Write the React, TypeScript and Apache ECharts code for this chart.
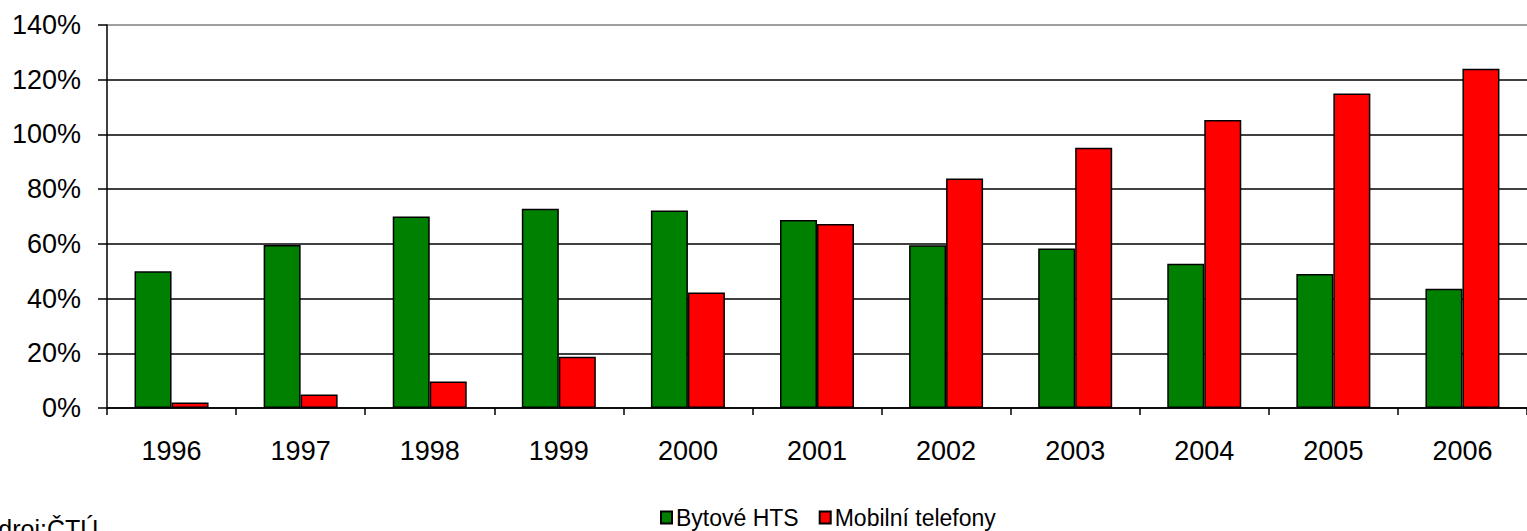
import React, { useEffect, useRef } from "react";
import * as echarts from "echarts";

const years = ["1996", "1997", "1998", "1999", "2000", "2001", "2002", "2003", "2004", "2005", "2006"];
const bytoveHTS = [50, 59.6, 70, 72.8, 72.2, 68.7, 59.5, 58.3, 52.7, 49.0, 43.6];
const mobilniTelefony = [2.0, 4.9, 9.7, 18.7, 42.2, 67.3, 83.9, 95.1, 105.3, 115, 124];
const seriesNames = ["Bytové HTS", "Mobilní telefony"];
const sourceText = "Zdroj:ČTÚ";

const FONT = "'Liberation Sans', Arial, sans-serif";

export default function App() {
  const ref = useRef<HTMLDivElement>(null);
  useEffect(() => {
    if (!ref.current) return;
    const chart = echarts.init(ref.current, null, { renderer: "svg" });
    chart.setOption({
      animation: false,
      backgroundColor: "#ffffff",
      textStyle: { fontFamily: FONT, color: "#000" },
      grid: { left: 107, top: 25, width: 1430, height: 383, containLabel: false },
      legend: {
        left: 655,
        top: 501,
        icon: "rect",
        itemWidth: 11,
        itemHeight: 12,
        itemGap: 20,
        textStyle: { fontFamily: FONT, fontSize: 23, color: "#000", padding: [0, 0, 0, -1] },
        data: seriesNames,
      },
      graphic: [
        {
          type: "text",
          left: -17,
          top: 516,
          style: { text: sourceText, font: `25px ${FONT}`, fill: "#000" },
        },
      ],
      xAxis: {
        type: "category",
        data: years,
        axisLine: { show: true, lineStyle: { color: "#000", width: 1.5 } },
        axisTick: { show: true, length: 7, lineStyle: { color: "#000", width: 1.5 } },
        axisLabel: { fontFamily: FONT, fontSize: 27, color: "#000", margin: 29 },
      },
      yAxis: {
        type: "value",
        min: 0,
        max: 140,
        interval: 20,
        axisLine: { show: true, lineStyle: { color: "#000", width: 1.5 } },
        axisTick: { show: true, length: 9, lineStyle: { color: "#000", width: 1.5 } },
        axisLabel: { fontFamily: FONT, fontSize: 27, color: "#000", margin: 26, formatter: "{value}%" },
        splitLine: {
          show: true,
          lineStyle: {
            color: ["#000", "#000", "#000", "#000", "#000", "#000", "#000", "#808080"],
            width: 1.5,
          },
        },
      },
      series: [
        {
          name: seriesNames[0],
          type: "bar",
          data: bytoveHTS,
          barWidth: 37,
          barGap: "0%",
          itemStyle: { color: "#008000", borderColor: "#000", borderWidth: 1.5 },
        },
        {
          name: seriesNames[1],
          type: "bar",
          data: mobilniTelefony,
          barWidth: 37,
          barGap: "0%",
          itemStyle: { color: "#ff0000", borderColor: "#000", borderWidth: 1.5 },
        },
      ],
    });
    return () => chart.dispose();
  }, []);
  return (
    <div
      ref={ref}
      style={{ position: "absolute", left: 0, top: 0, width: 1527, height: 531, background: "#fff" }}
    />
  );
}
